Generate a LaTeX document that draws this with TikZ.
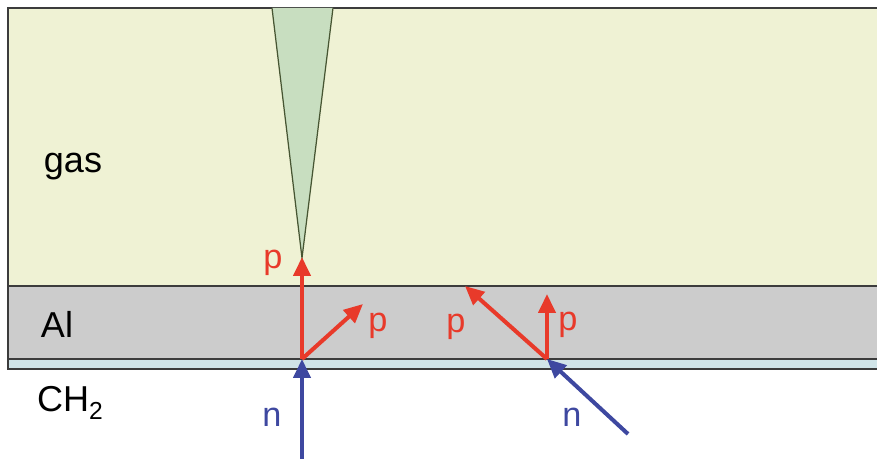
\documentclass[tikz,border=0pt]{standalone}
\usepackage{fontspec}
\setmainfont{Liberation Sans}
\usetikzlibrary{arrows.meta, positioning}

\definecolor{gasfill}{RGB}{239,242,212}
\definecolor{alfill}{RGB}{204,204,204}
\definecolor{chfill}{RGB}{208,228,232}
\definecolor{conefill}{RGB}{200,222,192}
\definecolor{conedraw}{RGB}{70,85,50}
\definecolor{layerline}{RGB}{60,60,60}
\definecolor{pred}{RGB}{232,58,42}
\definecolor{nblue}{RGB}{62,72,160}

\tikzset{
    layer/.style={draw=layerline, line width=1.1pt},
    ptrack/.style={draw=pred, line width=2.3pt, -{Triangle[length=0.38cm,width=0.34cm]}},
    ntrack/.style={draw=nblue, line width=2.3pt, -{Triangle[length=0.38cm,width=0.34cm]}},
    plabel/.style={text=pred, font=\fontsize{19.5}{22}\selectfont},
    nlabel/.style={text=nblue, font=\fontsize{19.5}{22}\selectfont},
    mlabel/.style={font=\fontsize{20.5}{24}\selectfont}
}

\begin{document}
\begin{tikzpicture}[x=0.02cm, y=-0.02cm]
    \useasboundingbox (0,0) rectangle (877,459);

    % Layers
    \fill[gasfill] (8,8) rectangle (877,286);
    \fill[alfill] (8,286) rectangle (877,359);
    \fill[chfill] (8,359) rectangle (877,369);
    \draw[layer] (877,8) -- (8,8) -- (8,369) -- (877,369);
    \draw[layer] (8,286) -- (877,286);
    \draw[layer] (8,359) -- (877,359);

    % Cone
    \draw[fill=conefill, draw=conedraw, line width=0.7pt] (272,8) -- (302,258) -- (333,8);

    % Layer names
    \node[mlabel] (gas) at (73,167) {gas};
    \node[mlabel] (al) at (57,324) {Al};
    \node[mlabel] (ch) at (70,403) {CH\raisebox{-0.45ex}{\fontsize{14}{16}\selectfont 2}};

    % Left vertex
    \coordinate (v1) at (302,359);
    \coordinate (n1) at (302,459);
    \coordinate (p1) at (302,257);
    \coordinate (q1) at (363,304);
    \draw[ntrack] (n1) -- (v1);
    \draw[ptrack] (v1) -- (p1);
    \draw[ptrack] (v1) -- (q1);
    \node[plabel] (lp1) at (273,263) {p};
    \node[plabel] (lq1) at (378,326) {p};
    \node[nlabel] (ln1) at (272,417) {n};

    % Right vertex
    \coordinate (v2) at (547,359);
    \coordinate (n2) at (628,434);
    \coordinate (p2) at (465,286);
    \coordinate (q2) at (547,294);
    \draw[ntrack] (n2) -- (v2);
    \draw[ptrack] (v2) -- (p2);
    \draw[ptrack] (v2) -- (q2);
    \node[plabel] (lp2) at (456,327) {p};
    \node[plabel] (lq2) at (568,325) {p};
    \node[nlabel] (ln2) at (572,417) {n};
\end{tikzpicture}
\end{document}
